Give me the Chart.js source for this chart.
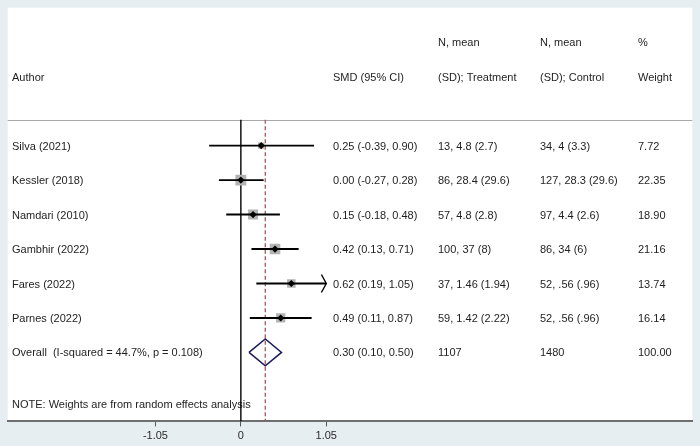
<!DOCTYPE html>
<html>
<head>
<meta charset="utf-8">
<script src="https://cdn.jsdelivr.net/npm/chart.js@4.4.1/dist/chart.umd.min.js"></script>
<style>
  html, body { margin: 0; padding: 0; background: #e7eef1; }
  #wrap { width: 700px; height: 446px; position: relative; }
</style>
</head>
<body>
<div id="wrap"><canvas id="forest"></canvas></div>
<script>
// ---- data ----
const authors = ['Silva (2021)', 'Kessler (2018)', 'Namdari (2010)', 'Gambhir (2022)', 'Fares (2022)', 'Parnes (2022)'];
const smd = [0.25, 0.00, 0.15, 0.42, 0.62, 0.49];
const ciLow = [-0.39, -0.27, -0.18, 0.13, 0.19, 0.11];
const ciHigh = [0.90, 0.28, 0.48, 0.71, 1.05, 0.87];
const treatment = ['13, 4.8 (2.7)', '86, 28.4 (29.6)', '57, 4.8 (2.8)', '100, 37 (8)', '37, 1.46 (1.94)', '59, 1.42 (2.22)'];
const control = ['34, 4 (3.3)', '127, 28.3 (29.6)', '97, 4.4 (2.6)', '86, 34 (6)', '52, .56 (.96)', '52, .56 (.96)'];
const weights = [7.72, 22.35, 18.90, 21.16, 13.74, 16.14];

const overallLabel = 'Overall  (I-squared = 44.7%, p = 0.108)';
const overallSmd = 0.30;
const overallLow = 0.10;
const overallHigh = 0.50;
const overallTreatment = '1107';
const overallControl = '1480';
const overallWeight = 100.00;

const xTicks = [-1.05, 0, 1.05];
const noteText = 'NOTE: Weights are from random effects analysis';

// ---- derived rows ----
const rows = authors.map((a, i) => i + 1);        // study rows 1..6
const overallRow = authors.length + 1;             // row 7
const headerRule = 0.25;
const arrowLimit = xTicks[xTicks.length - 1];

const ciPoints = [];
rows.forEach((r, i) => {
  ciPoints.push({ x: ciLow[i], y: r }, { x: Math.min(ciHigh[i], arrowLimit), y: r }, { x: null, y: null });
});

const arrowPoints = [];
rows.forEach((r, i) => {
  if (ciHigh[i] >= arrowLimit) {
    arrowPoints.push({ x: arrowLimit - 0.06, y: r - 0.26 }, { x: arrowLimit, y: r }, { x: arrowLimit - 0.06, y: r + 0.26 }, { x: null, y: null });
  }
});

const diamondPoints = [
  { x: overallLow, y: overallRow },
  { x: overallSmd, y: overallRow - 0.39 },
  { x: overallHigh, y: overallRow },
  { x: overallSmd, y: overallRow + 0.39 },
  { x: overallLow, y: overallRow }
];

const FONT = '11px Arial, "Liberation Sans", sans-serif';
const TEXT = '#1e1e1e';

// background panel + header rule
const panelPlugin = {
  id: 'panel',
  beforeDraw(chart) {
    const { ctx, chartArea: a, scales } = chart;
    ctx.save();
    ctx.fillStyle = '#ffffff';
    ctx.fillRect(a.left, a.top, a.right - a.left, a.bottom - a.top);
    const y = Math.round(scales.y.getPixelForValue(headerRule)) + 0.5;
    ctx.strokeStyle = '#a8a8a8';
    ctx.lineWidth = 1;
    ctx.beginPath();
    ctx.moveTo(a.left, y);
    ctx.lineTo(a.right, y);
    ctx.stroke();
    ctx.restore();
  }
};

// the table text columns
const tablePlugin = {
  id: 'table',
  beforeDatasetsDraw(chart) {
    const { ctx, scales } = chart;
    const yp = v => scales.y.getPixelForValue(v) + 1;
    const col = { author: 12, smd: 333, treat: 438, ctrl: 540, weight: 638 };
    ctx.save();
    ctx.font = FONT;
    ctx.fillStyle = TEXT;
    ctx.textBaseline = 'middle';
    ctx.textAlign = 'left';

    ctx.fillText('N, mean', col.treat, yp(-2));
    ctx.fillText('N, mean', col.ctrl, yp(-2));
    ctx.fillText('%', col.weight, yp(-2));
    ctx.fillText('Author', col.author, yp(-1));
    ctx.fillText('SMD (95% CI)', col.smd, yp(-1));
    ctx.fillText('(SD); Treatment', col.treat, yp(-1));
    ctx.fillText('(SD); Control', col.ctrl, yp(-1));
    ctx.fillText('Weight', col.weight, yp(-1));

    rows.forEach((r, i) => {
      ctx.fillText(authors[i], col.author, yp(r));
      ctx.fillText(smd[i].toFixed(2) + ' (' + ciLow[i].toFixed(2) + ', ' + ciHigh[i].toFixed(2) + ')', col.smd, yp(r));
      ctx.fillText(treatment[i], col.treat, yp(r));
      ctx.fillText(control[i], col.ctrl, yp(r));
      ctx.fillText(weights[i].toFixed(2), col.weight, yp(r));
    });

    ctx.fillText(overallLabel, col.author, yp(overallRow));
    ctx.fillText(overallSmd.toFixed(2) + ' (' + overallLow.toFixed(2) + ', ' + overallHigh.toFixed(2) + ')', col.smd, yp(overallRow));
    ctx.fillText(overallTreatment, col.treat, yp(overallRow));
    ctx.fillText(overallControl, col.ctrl, yp(overallRow));
    ctx.fillText(overallWeight.toFixed(2), col.weight, yp(overallRow));

    ctx.fillText(noteText, col.author, yp(8.5));
    ctx.restore();
  }
};

new Chart(document.getElementById('forest'), {
  type: 'scatter',
  data: {
    datasets: [
      { // point estimates
        data: rows.map((r, i) => ({ x: smd[i], y: r })),
        pointStyle: 'rectRot', pointRadius: 3.6, backgroundColor: '#000', borderColor: '#000', borderWidth: 0
      },
      { // confidence intervals
        type: 'line', data: ciPoints, showLine: true, spanGaps: false,
        borderColor: '#000', borderWidth: 1.9, pointRadius: 0
      },
      { // truncated CI arrow
        type: 'line', data: arrowPoints, showLine: true, spanGaps: false,
        borderColor: '#000', borderWidth: 1.4, pointRadius: 0
      },
      { // pooled diamond
        type: 'line', data: diamondPoints, showLine: true,
        borderColor: '#1b1b5a', borderWidth: 1.5, pointRadius: 0, fill: false
      },
      { // weight boxes
        data: rows.map((r, i) => ({ x: smd[i], y: r })),
        pointStyle: 'rect', pointRadius: weights.map(w => 1.63 * Math.sqrt(w)),
        backgroundColor: '#b3b3b3', borderWidth: 0
      },
      { // no-effect line
        type: 'line', data: [{ x: 0, y: headerRule }, { x: 0, y: 9 }], showLine: true,
        borderColor: '#000', borderWidth: 1.4, pointRadius: 0
      },
      { // pooled estimate line
        type: 'line', data: [{ x: overallSmd, y: headerRule }, { x: overallSmd, y: 9 }], showLine: true,
        borderColor: '#a05a5a', borderWidth: 1.3, borderDash: [4, 2.5], pointRadius: 0
      }
    ]
  },
  options: {
    responsive: true,
    maintainAspectRatio: false,
    animation: false,
    layout: { padding: { left: 0, right: 6, top: 7, bottom: 1 } },
    plugins: { legend: { display: false }, tooltip: { enabled: false } },
    scales: {
      x: {
        type: 'linear', min: -2.866, max: 5.549,
        afterBuildTicks: s => { s.ticks = xTicks.map(v => ({ value: v })); },
        ticks: {
          autoSkip: false, maxRotation: 0, padding: 6, color: '#2a2a2a',
          font: { family: 'Arial, "Liberation Sans", sans-serif', size: 11, lineHeight: 0.6 },
          callback: v => (v === 0 ? '0' : v.toFixed(2))
        },
        grid: { drawOnChartArea: false, drawTicks: true, tickLength: 5, color: '#555' },
        border: { color: '#6e6e6e', width: 2 }
      },
      y: { type: 'linear', reverse: true, min: -3, max: 9, display: false }
    }
  },
  plugins: [panelPlugin, tablePlugin]
});
</script>
</body>
</html>
